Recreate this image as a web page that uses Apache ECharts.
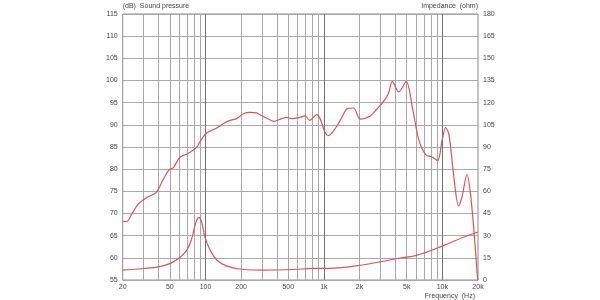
<!DOCTYPE html>
<html>
<head>
<meta charset="utf-8">
<script src="https://cdn.jsdelivr.net/npm/echarts@6/dist/echarts.min.js"></script>
<style>html,body{margin:0;padding:0;background:#fff}#c{width:600px;height:300px}</style>
</head>
<body>
<div id="c"></div>
<script>
// Sound pressure level curve (dB)
var splFreq = [20, 21.6, 23.9, 27, 31.9, 38.2, 44, 49.4, 53.4, 61, 71.9, 84.2, 90, 101.6, 124.7, 142, 161, 183, 209, 238, 271, 290, 330, 375, 440, 485, 535, 630, 693, 760, 870, 928, 1030, 1100, 1250, 1400, 1570, 1780, 2030, 2460, 2900, 3170, 3500, 3780, 4290, 4950, 5600, 6330, 7260, 8270, 9130, 9970, 10650, 11390, 12440, 13700, 14600, 16160, 17300, 18500, 19800, 20000];
var splValues = [68.2, 68.2, 69.9, 72.1, 73.6, 74.7, 77.7, 79.9, 80.3, 82.7, 83.6, 84.9, 86.2, 88.1, 89.3, 90.3, 91.0, 91.4, 92.5, 92.8, 92.7, 92.2, 91.5, 90.8, 91.4, 91.7, 91.4, 91.7, 92.0, 91.0, 92.3, 91.4, 88.1, 87.6, 89.2, 91.4, 93.6, 93.8, 91.3, 92.0, 94.0, 95.2, 97.0, 99.8, 97.4, 99.8, 93.7, 86.6, 83.2, 82.7, 81.9, 86.6, 89.4, 87.7, 78.8, 71.7, 73.6, 78.8, 74.3, 66.0, 55.5, 55.0];
// Impedance curve (ohm)
var impFreq = [20, 30, 40, 50, 59, 69.4, 76.4, 83, 88, 93, 99, 109.6, 125, 152, 209, 306, 555, 811, 990, 2030, 4430, 6060, 10300, 15600, 20000];
var impValues = [6.7, 7.8, 8.9, 11.1, 14.5, 20.1, 27.8, 39.0, 42.4, 39.0, 29.0, 20.1, 13.4, 9.4, 7.1, 6.7, 7.1, 7.8, 7.8, 10.0, 14.9, 16.7, 23.4, 29.4, 32.5];
// Axis ticks
var freqLabels = [20, 50, 100, 200, 500, 1000, 2000, 5000, 10000, 20000];
var freqGrid = [30, 40, 50, 60, 70, 80, 90, 200, 300, 400, 500, 600, 700, 800, 900, 2000, 3000, 4000, 5000, 6000, 7000, 8000, 9000];
var freqGridMajor = [100, 1000, 10000];

function fmtF(v) {
  v = Math.round(v);
  return v >= 1000 ? (v / 1000) + 'k' : String(v);
}
function pairs(xs, ys) { return xs.map(function (x, i) { return [x, ys[i]]; }); }

var chart = echarts.init(document.getElementById('c'), null, {renderer: 'canvas'});
var lineColor = '#d2555a';
var fontFam = 'Liberation Sans, Arial, sans-serif';
chart.setOption({
  animation: false,
  textStyle: {fontFamily: fontFam},
  grid: {left: 122.7, right: 122, top: 14, bottom: 16.7, show: true, borderColor: '#8a8a8a', borderWidth: 1, backgroundColor: 'transparent'},
  xAxis: {
    type: 'log', logBase: 10, min: 20, max: 20000,
    name: 'Frequency  (Hz)', nameLocation: 'end', nameGap: -3,
    nameTextStyle: {fontSize: 7, color: '#444', align: 'right', verticalAlign: 'top', padding: [13, 0, 0, 0]},
    axisLine: {show: false}, axisTick: {show: false},
    splitLine: {show: false}, minorSplitLine: {show: false},
    axisLabel: {customValues: freqLabels, formatter: function (v) { return fmtF(v); }, fontSize: 7, color: '#444', margin: 4, showMinLabel: true, showMaxLabel: true}
  },
  yAxis: [{
    type: 'value', min: 55, max: 115, interval: 5, position: 'left',
    name: '(dB)  Sound pressure', nameLocation: 'end', nameGap: 4,
    nameTextStyle: {fontSize: 7, color: '#444', align: 'left'},
    axisLine: {show: false}, axisTick: {show: false},
    axisLabel: {fontSize: 7, color: '#444', margin: 5},
    splitLine: {show: true, lineStyle: {color: '#a8a8a8', width: 1}}
  }, {
    type: 'value', min: 0, max: 180, interval: 15, position: 'right',
    name: 'Impedance  (ohm)', nameLocation: 'end', nameGap: 4,
    nameTextStyle: {fontSize: 7, color: '#444', align: 'right'},
    axisLine: {show: false}, axisTick: {show: false},
    axisLabel: {fontSize: 7, color: '#444', margin: 5},
    splitLine: {show: false}
  }],
  series: [{
    type: 'line', name: 'grid', data: [], silent: true,
    markLine: {
      silent: true, symbol: 'none', label: {show: false}, animation: false,
      data: freqGrid.map(function (f) { return {xAxis: f, lineStyle: {color: '#a8a8a8', width: 1, type: 'solid'}}; })
        .concat(freqGridMajor.map(function (f) { return {xAxis: f, lineStyle: {color: '#707070', width: 1, type: 'solid'}}; }))
    }
  }, {
    type: 'line', name: 'SPL', yAxisIndex: 0, data: pairs(splFreq, splValues),
    showSymbol: false, smooth: 0.3, lineStyle: {color: lineColor, width: 1.2}, z: 5
  }, {
    type: 'line', name: 'Impedance', yAxisIndex: 1, data: pairs(impFreq, impValues),
    showSymbol: false, smooth: 0.4, lineStyle: {color: lineColor, width: 1.2}, z: 5
  }]
});
</script>
</body>
</html>
